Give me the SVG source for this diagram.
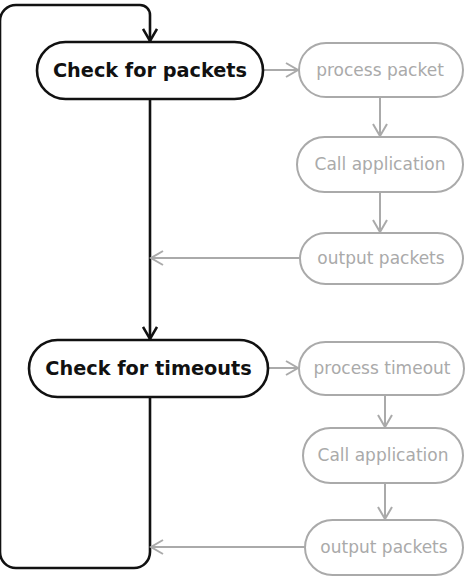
<svg xmlns="http://www.w3.org/2000/svg" width="466" height="579" viewBox="0 0 466 579">
<defs>
<marker id="ab" markerUnits="userSpaceOnUse" markerWidth="16" markerHeight="16" viewBox="-13 -8 15 16" refX="0" refY="0" orient="auto">
<path d="M-12,-7 L0,0 L-12,7" fill="none" stroke="#111" stroke-width="2.6" stroke-linejoin="miter"/>
</marker>
<marker id="ag" markerUnits="userSpaceOnUse" markerWidth="16" markerHeight="16" viewBox="-13 -8 15 16" refX="0" refY="0" orient="auto">
<path d="M-12,-7 L0,0 L-12,7" fill="none" stroke="#aaa" stroke-width="2"/>
</marker>
</defs>
<style>
.bn rect{fill:#fff;stroke:#111;stroke-width:2.6}
.bn text{font-family:"DejaVu Sans",sans-serif;font-weight:bold;font-size:19.3px;fill:#111;text-anchor:middle}
.gn rect{fill:#fff;stroke:#aaa;stroke-width:2}
.gn text{font-family:"DejaVu Sans",sans-serif;font-size:17px;fill:#aaa;text-anchor:middle}
.bc{fill:none;stroke:#111;stroke-width:2.6}
.gc{fill:none;stroke:#aaa;stroke-width:2}
</style>
<g id="connectors">
<path class="bc" d="M150,397 L150,552 A16,16 0 0 1 134,568 L16,568 A16,16 0 0 1 0,552 L0,21 A16,16 0 0 1 16,5 L140,5 A10,10 0 0 1 150,15 L150,41" marker-end="url(#ab)"/>
<path class="bc" d="M150,99 L150,339" marker-end="url(#ab)"/>
<path class="gc" d="M263,70 L298,70" marker-end="url(#ag)"/>
<path class="gc" d="M380,97 L380,136" marker-end="url(#ag)"/>
<path class="gc" d="M380,192 L380,232" marker-end="url(#ag)"/>
<path class="gc" d="M300,258 L151,258" marker-end="url(#ag)"/>
<path class="gc" d="M268,368 L298,368" marker-end="url(#ag)"/>
<path class="gc" d="M385,395 L385,427" marker-end="url(#ag)"/>
<path class="gc" d="M385,483 L385,519" marker-end="url(#ag)"/>
<path class="gc" d="M305,547 L151,547" marker-end="url(#ag)"/>
</g>
<g id="check-packets" class="bn"><rect x="37" y="42" width="226" height="57" rx="28.5"/><text x="150" y="77">Check for packets</text></g>
<g id="process-packet" class="gn"><rect x="299" y="43" width="164" height="54" rx="27"/><text x="380" y="76">process packet</text></g>
<g id="call-app-1" class="gn"><rect x="297" y="137" width="166" height="55" rx="27.5"/><text x="380" y="170">Call application</text></g>
<g id="output-1" class="gn"><rect x="300" y="233" width="163" height="51" rx="25.5"/><text x="381" y="264">output packets</text></g>
<g id="check-timeouts" class="bn"><rect x="29" y="340" width="239" height="57" rx="28.5"/><text x="148.5" y="375">Check for timeouts</text></g>
<g id="process-timeout" class="gn"><rect x="299" y="342" width="165" height="53" rx="26.5"/><text x="382" y="374">process timeout</text></g>
<g id="call-app-2" class="gn"><rect x="303" y="428" width="160" height="55" rx="27.5"/><text x="383" y="461">Call application</text></g>
<g id="output-2" class="gn"><rect x="305" y="520" width="158" height="55" rx="27.5"/><text x="384" y="553">output packets</text></g>
</svg>
